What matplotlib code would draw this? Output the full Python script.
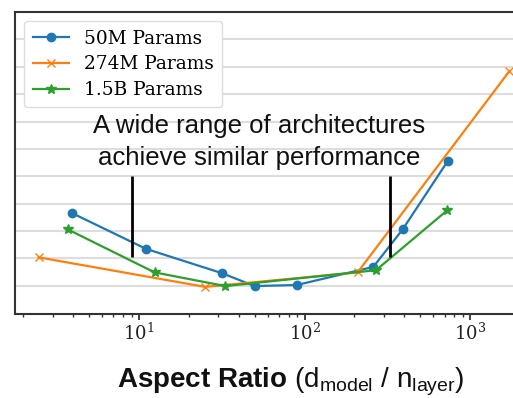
import matplotlib
matplotlib.use("Agg")
import matplotlib.pyplot as plt
from matplotlib.ticker import LogLocator, NullFormatter

plt.rcParams["font.family"] = ["DejaVu Serif"]
plt.rcParams["mathtext.fontset"] = "custom"
plt.rcParams["mathtext.rm"] = "Liberation Sans"
plt.rcParams["mathtext.bf"] = "Liberation Sans:bold"
plt.rcParams["mathtext.it"] = "Liberation Sans:italic"

# Aspect ratio (d_model / n_layer) and relative loss, in gridline units
aspect_50m = [3.95, 11.0, 31.7, 49.8, 89.8, 260, 391, 731]
loss_50m = [3.65, 2.35, 1.46, 0.99, 1.03, 1.69, 3.06, 5.55]

aspect_274m = [2.47, 25.1, 209, 1726]
loss_274m = [2.04, 0.96, 1.49, 8.84]

aspect_1_5b = [3.71, 12.4, 33.2, 270, 728]
loss_1_5b = [3.06, 1.49, 0.99, 1.57, 3.76]

series_labels = ["50M Params", "274M Params", "1.5B Params"]
annotation_lines = ["A wide range of architectures", "achieve similar performance"]
bracket_x = [9.0, 327]

fig = plt.figure(figsize=(5.13, 3.98), dpi=100)
ax = fig.add_axes([15 / 513, 84 / 398, 553 / 513, 302 / 398])

ax.plot(aspect_50m, loss_50m, color="#1f77b4", marker="o", markersize=6,
        lw=1.6, label=series_labels[0])
ax.plot(aspect_274m, loss_274m, color="#ff7f0e", marker="x", markersize=6,
        lw=1.6, label=series_labels[1])
ax.plot(aspect_1_5b, loss_1_5b, color="#2ca02c", marker="*", markersize=7,
        lw=1.6, label=series_labels[2])

for bx in bracket_x:
    ax.plot([bx, bx], [2.05, 5.0], color="black", lw=2, solid_capstyle="butt")

ax.text(53, 6.58, annotation_lines[0], ha="center", va="baseline",
        fontsize=18.5, family="Liberation Sans", color="#111111")
ax.text(53, 5.40, annotation_lines[1], ha="center", va="baseline",
        fontsize=18.5, family="Liberation Sans", color="#111111")

ax.set_xscale("log")
ax.set_xlim(1.78, 3900)
ax.set_ylim(-0.03, 11.0)

ax.set_yticks(range(1, 11))
ax.yaxis.set_tick_params(length=0, labelleft=False)
ax.grid(axis="y", color="#dddddd", lw=1.5)
ax.grid(axis="x", visible=False)
ax.set_axisbelow(True)

ax.xaxis.set_major_locator(LogLocator(base=10))
ax.xaxis.set_minor_locator(LogLocator(base=10, subs=range(2, 10)))
ax.xaxis.set_minor_formatter(NullFormatter())
ax.tick_params(axis="x", which="major", length=4, width=1.2, labelsize=13,
               colors="#222222", pad=2)
ax.tick_params(axis="x", which="minor", length=2.5, width=1, colors="#333333")
for lbl in ax.get_xticklabels():
    lbl.set_math_fontfamily("dejavuserif")

for side in ["left", "bottom", "top"]:
    ax.spines[side].set_color("#333333")
    ax.spines[side].set_linewidth(1.5)

ax.legend(loc="upper left", fontsize=13.3, labelspacing=0.42,
          handlelength=2.0, handletextpad=0.8, framealpha=1,
          edgecolor="#dddddd", borderpad=0.45)

fig.text(291 / 513, 1 - 387 / 398,
         r"$\mathbf{Aspect\ Ratio}\ (\mathrm{d}_{\mathrm{model}}\ /\ \mathrm{n}_{\mathrm{layer}})$",
         ha="center", va="baseline", fontsize=20, color="#111111")

fig.savefig("out.png", dpi=100)
